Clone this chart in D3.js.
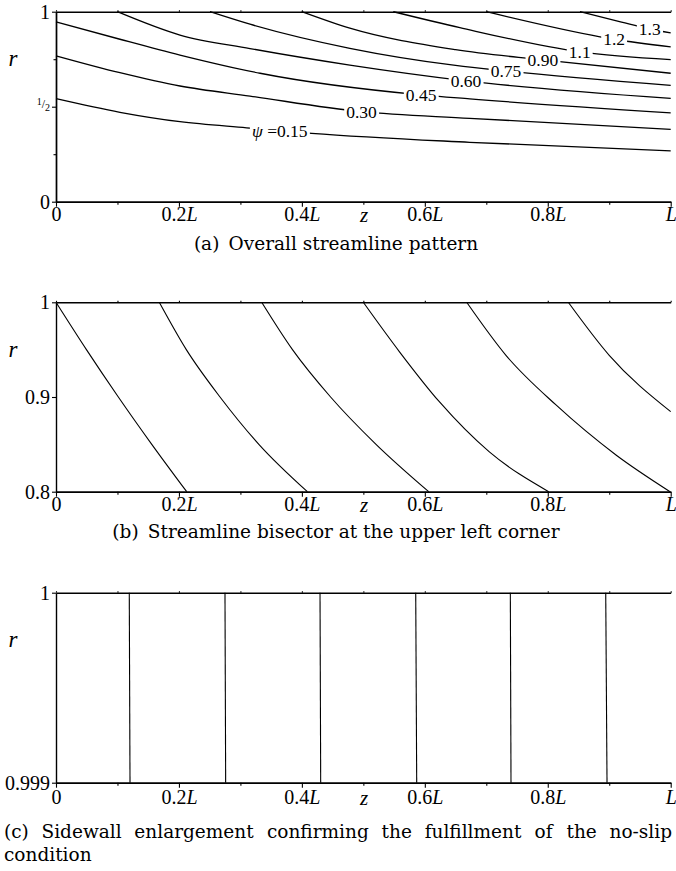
<!DOCTYPE html>
<html>
<head>
<meta charset="utf-8">
<script src="https://cdn.jsdelivr.net/npm/d3@7"></script>
<style>
    body { margin: 0; background: #fff; }
    svg text { font-family: "Liberation Serif", "DejaVu Serif", serif; fill: #000; }
    svg text.caption { font-family: "DejaVu Serif", "Liberation Serif", serif; }
</style>
</head>
<body>
<svg id="fig" width="676" height="871"></svg>
<script>
// ---- axis ticks shared by the three panels ----
var zMajorTicks = [0, 0.2, 0.4, 0.6, 0.8, 1];
var zMajorLabels = ["0", "0.2L", "0.4L", "0.6L", "0.8L", "L"];
var zMinorTicks = [0.1, 0.3, 0.5, 0.7, 0.9];

// ---- (a) overall streamline pattern, contours traced as [z, r] ----
var psiLevels = ["0.15", "0.30", "0.45", "0.60", "0.75", "0.90", "1.1", "1.2", "1.3"];
var psiLabelZ = [0.364, 0.497, 0.594, 0.667, 0.732, 0.792, 0.852, 0.908, 0.966];
var psi015 = [[0, 0.542], [0.104, 0.4705], [0.2017, 0.421], [0.31, 0.389], [0.416, 0.36], [0.673, 0.3126], [1, 0.268]];
var psi030 = [[0, 0.768], [0.104, 0.679], [0.2017, 0.609], [0.3156, 0.556], [0.497, 0.474], [0.673, 0.439], [1, 0.381]];
var psi045 = [[0, 0.947], [0.104, 0.855], [0.2017, 0.772], [0.332, 0.676], [0.594, 0.562], [0.673, 0.541], [1, 0.468]];
var psi060 = [[0.0998, 1], [0.2017, 0.877], [0.3156, 0.806], [0.478, 0.719], [0.667, 0.636], [1, 0.544]];
var psi075 = [[0.2505, 1], [0.3156, 0.934], [0.478, 0.807], [0.65, 0.717], [0.732, 0.688], [1, 0.612]];
var psi090 = [[0.3997, 1], [0.478, 0.913], [0.65, 0.80], [0.792, 0.746], [1, 0.676]];
var psi110 = [[0.5487, 1], [0.657, 0.916], [0.852, 0.789], [1, 0.748]];
var psi120 = [[0.7, 1], [0.885, 0.868], [0.908, 0.855], [1, 0.815]];
var psi130 = [[0.8524, 1], [0.92, 0.945], [0.966, 0.909], [1, 0.889]];

// ---- (b) upper left corner, r from 1 down to 0.8 ----
var cornerA = [[0, 1], [0.0495, 0.95], [0.1014, 0.9], [0.1558, 0.85], [0.2126, 0.8]];
var cornerB = [[0.168, 1], [0.212, 0.95], [0.2668, 0.9], [0.330, 0.85], [0.4089, 0.8]];
var cornerC = [[0.3346, 1], [0.3847, 0.95], [0.4467, 0.9], [0.5206, 0.85], [0.6063, 0.8]];
var cornerD = [[0.4999, 1], [0.5585, 0.948], [0.6236, 0.895], [0.705, 0.842], [0.8015, 0.8]];
var cornerE = [[0.6681, 1], [0.732, 0.944], [0.8134, 0.8916], [0.911, 0.8388], [0.999, 0.8]];
var cornerF = [[0.8334, 1], [0.9, 0.944], [1, 0.8845]];

// ---- (c) sidewall enlargement: z where each streamline meets r = 1 and r = 0.999 ----
var wallTopZ = [0.1192, 0.2749, 0.4295, 0.5852, 0.7391, 0.8943];
var wallBottomZ = [0.1204, 0.276, 0.4306, 0.5868, 0.7402, 0.8964];

var svg = d3.select("#fig");
var x = d3.scaleLinear().domain([0, 1]).range([56, 670.7]);

/**
 * Replace "0.2L" like labels by a roman number and an italic L,
 * and "½" by a small built fraction (the glyph falls back badly)
 */
function fixLabels(textSel) {
    textSel.each(function () {
        var t = d3.select(this);
        var s = t.text();
        if (s.endsWith("L")) {
            t.text(s.slice(0, -1));
            t.append("tspan").attr("font-style", "italic").text("L");
        } else if (s === "½") {
            t.text(null);
            t.append("tspan").attr("font-size", 10).attr("dy", "-0.25em").text("1");
            t.append("tspan").attr("font-size", 12).attr("dy", "0.25em").text("/");
            t.append("tspan").attr("font-size", 10).attr("dy", "0.3em").text("2");
        }
    });
}

function drawPanel(p) {
    var y = d3.scaleLinear().domain(p.yDomain).range([p.bottom, p.top]);
    var g = svg.append("g");

    // top frame with tiny ticks
    g.append("g")
        .attr("transform", "translate(0," + p.top + ")")
        .call(d3.axisTop(x).tickValues(zMajorTicks.concat(zMinorTicks)).tickSize(1.5).tickSizeOuter(0).tickFormat(""));

    // bottom axis, minor then major
    g.append("g")
        .attr("transform", "translate(0," + p.bottom + ")")
        .call(d3.axisBottom(x).tickValues(zMinorTicks).tickSize(3).tickSizeOuter(0).tickFormat(""));
    var bottomMajor = g.append("g")
        .attr("transform", "translate(0," + p.bottom + ")")
        .call(d3.axisBottom(x).tickValues(zMajorTicks).tickSize(5).tickSizeOuter(0).tickPadding(p.xPad)
            .tickFormat((d, i) => zMajorLabels[i]));

    // left axis
    if (p.yMinor.length) {
        g.append("g")
            .attr("transform", "translate(56,0)")
            .call(d3.axisLeft(y).tickValues(p.yMinor).tickSize(2.5).tickSizeOuter(0).tickFormat(""));
    }
    var leftMajor = g.append("g")
        .attr("transform", "translate(56,0)")
        .call(d3.axisLeft(y).tickValues(p.yMajor).tickSize(4).tickSizeOuter(0).tickPadding(2)
            .tickFormat((d, i) => p.yLabels[i]));

    g.selectAll(".domain").attr("stroke-width", 1.4).attr("stroke", "#000");
    g.selectAll(".tick line").attr("stroke-width", 1.1).attr("stroke", "#000");
    g.selectAll("g").attr("font-size", null);
    g.selectAll(".tick text").attr("font-size", 20).attr("fill", "#000");
    bottomMajor.selectAll("text").call(fixLabels);
    leftMajor.selectAll("text").call(fixLabels);

    // axis names
    g.append("text")
        .attr("x", 13).attr("y", p.top + 47)
        .attr("dy", "0.32em")
        .attr("text-anchor", "middle")
        .attr("font-style", "italic")
        .attr("font-size", 23)
        .text("r");
    g.append("text")
        .attr("x", 364).attr("y", p.bottom + 5 + p.xPad)
        .attr("dy", "0.71em")
        .attr("text-anchor", "middle")
        .attr("font-style", "italic")
        .attr("font-size", 21)
        .text("z");

    var line = d3.line()
        .x(d => x(d[0]))
        .y(d => y(d[1]))
        .curve(d3.curveMonotoneX);

    var paths = g.selectAll(".stream")
        .data(p.lines)
        .join("path")
        .attr("class", "stream")
        .attr("fill", "none")
        .attr("stroke", "#000")
        .attr("stroke-width", p.lineWidth)
        .attr("d", line);

    return {g: g, y: y, paths: paths};
}

// (a)
var panelA = drawPanel({
    top: 11.7, bottom: 201.7, xPad: 0,
    yDomain: [0, 1], yMajor: [0, 0.5, 1], yLabels: ["0", "½", "1"], yMinor: [0.25, 0.75],
    lines: [psi015, psi030, psi045, psi060, psi075, psi090, psi110, psi120, psi130],
    lineWidth: 1.3
});

/**
 * Find point on a rendered path at a given screen x (binary search on length)
 */
function pointAtX(pathNode, px) {
    var lo = 0, hi = pathNode.getTotalLength();
    for (var k = 0; k < 40; k++) {
        var mid = (lo + hi) / 2;
        if (pathNode.getPointAtLength(mid).x < px) lo = mid; else hi = mid;
    }
    return pathNode.getPointAtLength(lo);
}

// contour labels sit in a gap of their own line
panelA.paths.each(function (d, i) {
    var pt = pointAtX(this, x(psiLabelZ[i]));
    var lab = panelA.g.append("g");
    var rect = lab.append("rect").attr("fill", "#fff");
    var txt = lab.append("text")
        .attr("x", pt.x).attr("y", pt.y)
        .attr("dy", "0.34em")
        .attr("text-anchor", "middle")
        .attr("font-size", 17.5);
    if (i === 0) {
        txt.append("tspan").attr("font-style", "italic").text("ψ");
        txt.append("tspan").text(" =" + psiLevels[i]);
    } else {
        txt.text(psiLevels[i]);
    }
    var bb = txt.node().getBBox();
    rect.attr("x", bb.x - 2).attr("width", bb.width + 4)
        .attr("y", pt.y - 4).attr("height", 8);
});

// (b)
drawPanel({
    top: 302.3, bottom: 491.7, xPad: 0,
    yDomain: [0.8, 1], yMajor: [0.8, 0.9, 1], yLabels: ["0.8", "0.9", "1"], yMinor: [],
    lines: [cornerA, cornerB, cornerC, cornerD, cornerE, cornerF],
    lineWidth: 1.1
});

// (c)
drawPanel({
    top: 592.7, bottom: 782.7, xPad: 2,
    yDomain: [0.999, 1], yMajor: [0.999, 1], yLabels: ["0.999", "1"], yMinor: [],
    lines: wallTopZ.map((zt, i) => [[zt, 1], [wallBottomZ[i], 0.999]]),
    lineWidth: 1.1
});

// captions
var capSize = 18.5;
svg.append("text").attr("class", "caption").attr("x", 336).attr("y", 250)
    .attr("text-anchor", "middle").attr("font-size", capSize)
    .text("(a)\u2002Overall streamline pattern");
svg.append("text").attr("class", "caption").attr("x", 336).attr("y", 538)
    .attr("text-anchor", "middle").attr("font-size", capSize)
    .text("(b)\u2002Streamline bisector at the upper left corner");

// justified first line of caption (c)
var capWords = ["(c)", "Sidewall", "enlargement", "confirming", "the", "fulfillment", "of", "the", "no-slip"];
var capLeft = 4, capRight = 672;
var wordNodes = capWords.map(w => svg.append("text").attr("class", "caption")
    .attr("y", 838).attr("font-size", capSize).text(w));
var used = d3.sum(wordNodes, n => n.node().getBBox().width);
var gap = (capRight - capLeft - used) / (capWords.length - 1);
var cx = capLeft;
wordNodes.forEach(n => {
    n.attr("x", cx);
    cx += n.node().getBBox().width + gap;
});
svg.append("text").attr("class", "caption").attr("x", capLeft).attr("y", 861)
    .attr("font-size", capSize).text("condition");
</script>
</body>
</html>
